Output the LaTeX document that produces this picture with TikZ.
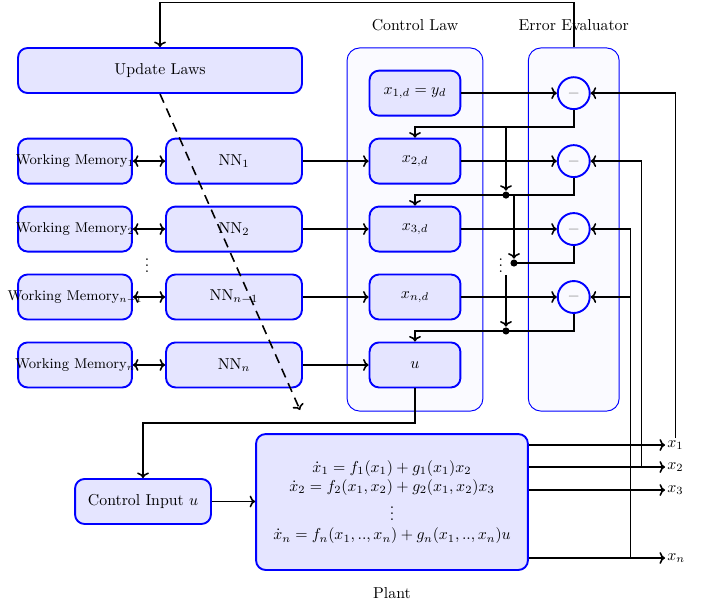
\documentclass[tikz,border=0pt]{standalone}
\usepackage{amsmath}
\usetikzlibrary{calc,arrows.meta}
\newcommand{\wmlabel}[1]{\makebox[2.3cm]{\small Working Memory$_{#1}$}}

\begin{document}
\begin{tikzpicture}[>={To[length=3.5pt,width=7.5pt]},line width=1pt,
  block/.style={draw=blue,very thick,fill=blue!10,rounded corners=6pt,minimum height=1cm,align=center},
  group/.style={draw=blue,line width=0.6pt,fill=blue!2,rounded corners=8pt,minimum width=#1,minimum height=8.07cm},
  err/.style={circle,draw=blue,very thick,fill=blue!2,minimum size=0.71cm,inner sep=0pt},
  dot/.style={circle,fill=black,inner sep=0pt,minimum size=4.5pt}]
\useasboundingbox (0,0) rectangle (15.667,-13.422);
\node[group=3.02cm] (law) at (9.222,-5.1) {};
\node[group=2.02cm] (eval) at (12.75,-5.1) {};
\node (lawname) at (9.222,-0.556) {Control Law};
\node (evalname) at (12.75,-0.556) {Error Evaluator};

\node[block,minimum width=6.31cm] (update) at (3.556,-1.567) {Update Laws};
\node[block,minimum width=2.53cm,inner xsep=0pt] (wm1) at (1.667,-3.58) {\wmlabel{1}};
\node[block,minimum width=2.53cm,inner xsep=0pt] (wm2) at (1.667,-5.09) {\wmlabel{2}};
\node[block,minimum width=2.53cm,inner xsep=0pt] (wm3) at (1.667,-6.60) {\wmlabel{n-1}};
\node[block,minimum width=2.53cm,inner xsep=0pt] (wm4) at (1.667,-8.11) {\wmlabel{n}};
\node[block,minimum width=3.02cm] (nn1) at (5.2,-3.58) {NN$_1$};
\node[block,minimum width=3.02cm] (nn2) at (5.2,-5.09) {NN$_2$};
\node[block,minimum width=3.02cm] (nn3) at (5.2,-6.60) {NN$_{n-1}$};
\node[block,minimum width=3.02cm] (nn4) at (5.2,-8.11) {NN$_n$};
\node (ldots) at (3.267,-5.8) {$\vdots$};

\node[block,minimum width=2.02cm] (xd1) at (9.222,-2.07) {$x_{1,d}=y_d$};
\node[block,minimum width=2.02cm] (xd2) at (9.222,-3.58) {$x_{2,d}$};
\node[block,minimum width=2.02cm] (xd3) at (9.222,-5.09) {$x_{3,d}$};
\node[block,minimum width=2.02cm] (xd4) at (9.222,-6.60) {$x_{n,d}$};
\node[block,minimum width=2.02cm] (u) at (9.222,-8.11) {$u$};

\node[err] (e1) at (12.75,-2.07) {\color{gray}$-$};
\node[err] (e2) at (12.75,-3.58) {\color{gray}$-$};
\node[err] (e3) at (12.75,-5.09) {\color{gray}$-$};
\node[err] (e4) at (12.75,-6.60) {\color{gray}$-$};

\node[block,minimum width=3.02cm] (ctrl) at (3.178,-11.144) {Control Input $u$};
\node[block,minimum width=6.04cm,minimum height=3.02cm] (plant) at (8.711,-11.156)
  {$\dot x_1=f_1(x_1)+g_1(x_1)x_2$\\ $\dot x_2=f_2(x_1,x_2)+g_2(x_1,x_2)x_3$\\ $\vdots$\\ $\dot x_n=f_n(x_1,..,x_n)+g_n(x_1,..,x_n)u$};
\node (plantname) at (8.711,-13.178) {Plant};

\node[anchor=west,inner sep=1pt] (y1) at (14.778,-9.889) {$x_1$};
\node[anchor=west,inner sep=1pt] (y2) at (14.778,-10.378) {$x_2$};
\node[anchor=west,inner sep=1pt] (y3) at (14.778,-10.889) {$x_3$};
\node[anchor=west,inner sep=1pt] (yn) at (14.778,-12.4) {$x_n$};

\coordinate (dashend) at (6.667,-9.111);
\coordinate (b1) at (11.244,-2.825);
\node[dot] (d1) at (11.244,-4.335) {};
\coordinate (b2) at (11.422,-4.335);
\node[dot] (d2) at (11.422,-5.845) {};
\node (bdots) at (11.13,-5.8) {$\vdots$};
\coordinate (b3) at (11.244,-6.11);
\node[dot] (d3) at (11.244,-7.355) {};
\coordinate (j2) at (14.256,-10.378);
\coordinate (jn) at (14.011,-12.4);

\draw[->] (eval.north) -- ++(0,1) -| (update.north);
\draw[->,dash pattern=on 6pt off 4pt] (update.south) -- (dashend);
\draw[<->] (wm1) -- (nn1);
\draw[<->] (wm2) -- (nn2);
\draw[<->] (wm3) -- (nn3);
\draw[<->] (wm4) -- (nn4);
\draw[->] (nn1) -- (xd2);
\draw[->] (nn2) -- (xd3);
\draw[->] (nn3) -- (xd4);
\draw[->] (nn4) -- (u);
\draw[->] (xd1) -- (e1);
\draw[->] (xd2) -- (e2);
\draw[->] (xd3) -- (e3);
\draw[->] (xd4) -- (e4);
\draw[->] (e1.south) |- (b1) -| (xd2.north);
\draw[->] (b1) -- (d1);
\draw[->] (e2.south) |- (d1.center) -| (xd3.north);
\draw[->] (b2) -- (d2);
\draw (e3.south) |- (d2.center);
\draw[->] (b3) -- (d3);
\draw[->] (e4.south) |- (d3.center) -| (u.north);
\draw[->] (u.south) -- ++(0,-0.77) -| (ctrl.north);
\draw[->] (ctrl.east) -- (ctrl.east -| plant.west);
\draw[->] (plant.east |- y1) -- (y1);
\draw[->] (plant.east |- y2) -- (y2);
\draw[->] (plant.east |- y3) -- (y3);
\draw[->] (plant.east |- yn) -- (yn);
\draw[->] (y1.north) |- (e1.east);
\draw[->] (j2) |- (e2.east);
\draw[->] (jn) |- (e3.east);
\draw[->] (jn |- e4) -- (e4.east);
\end{tikzpicture}
\end{document}
